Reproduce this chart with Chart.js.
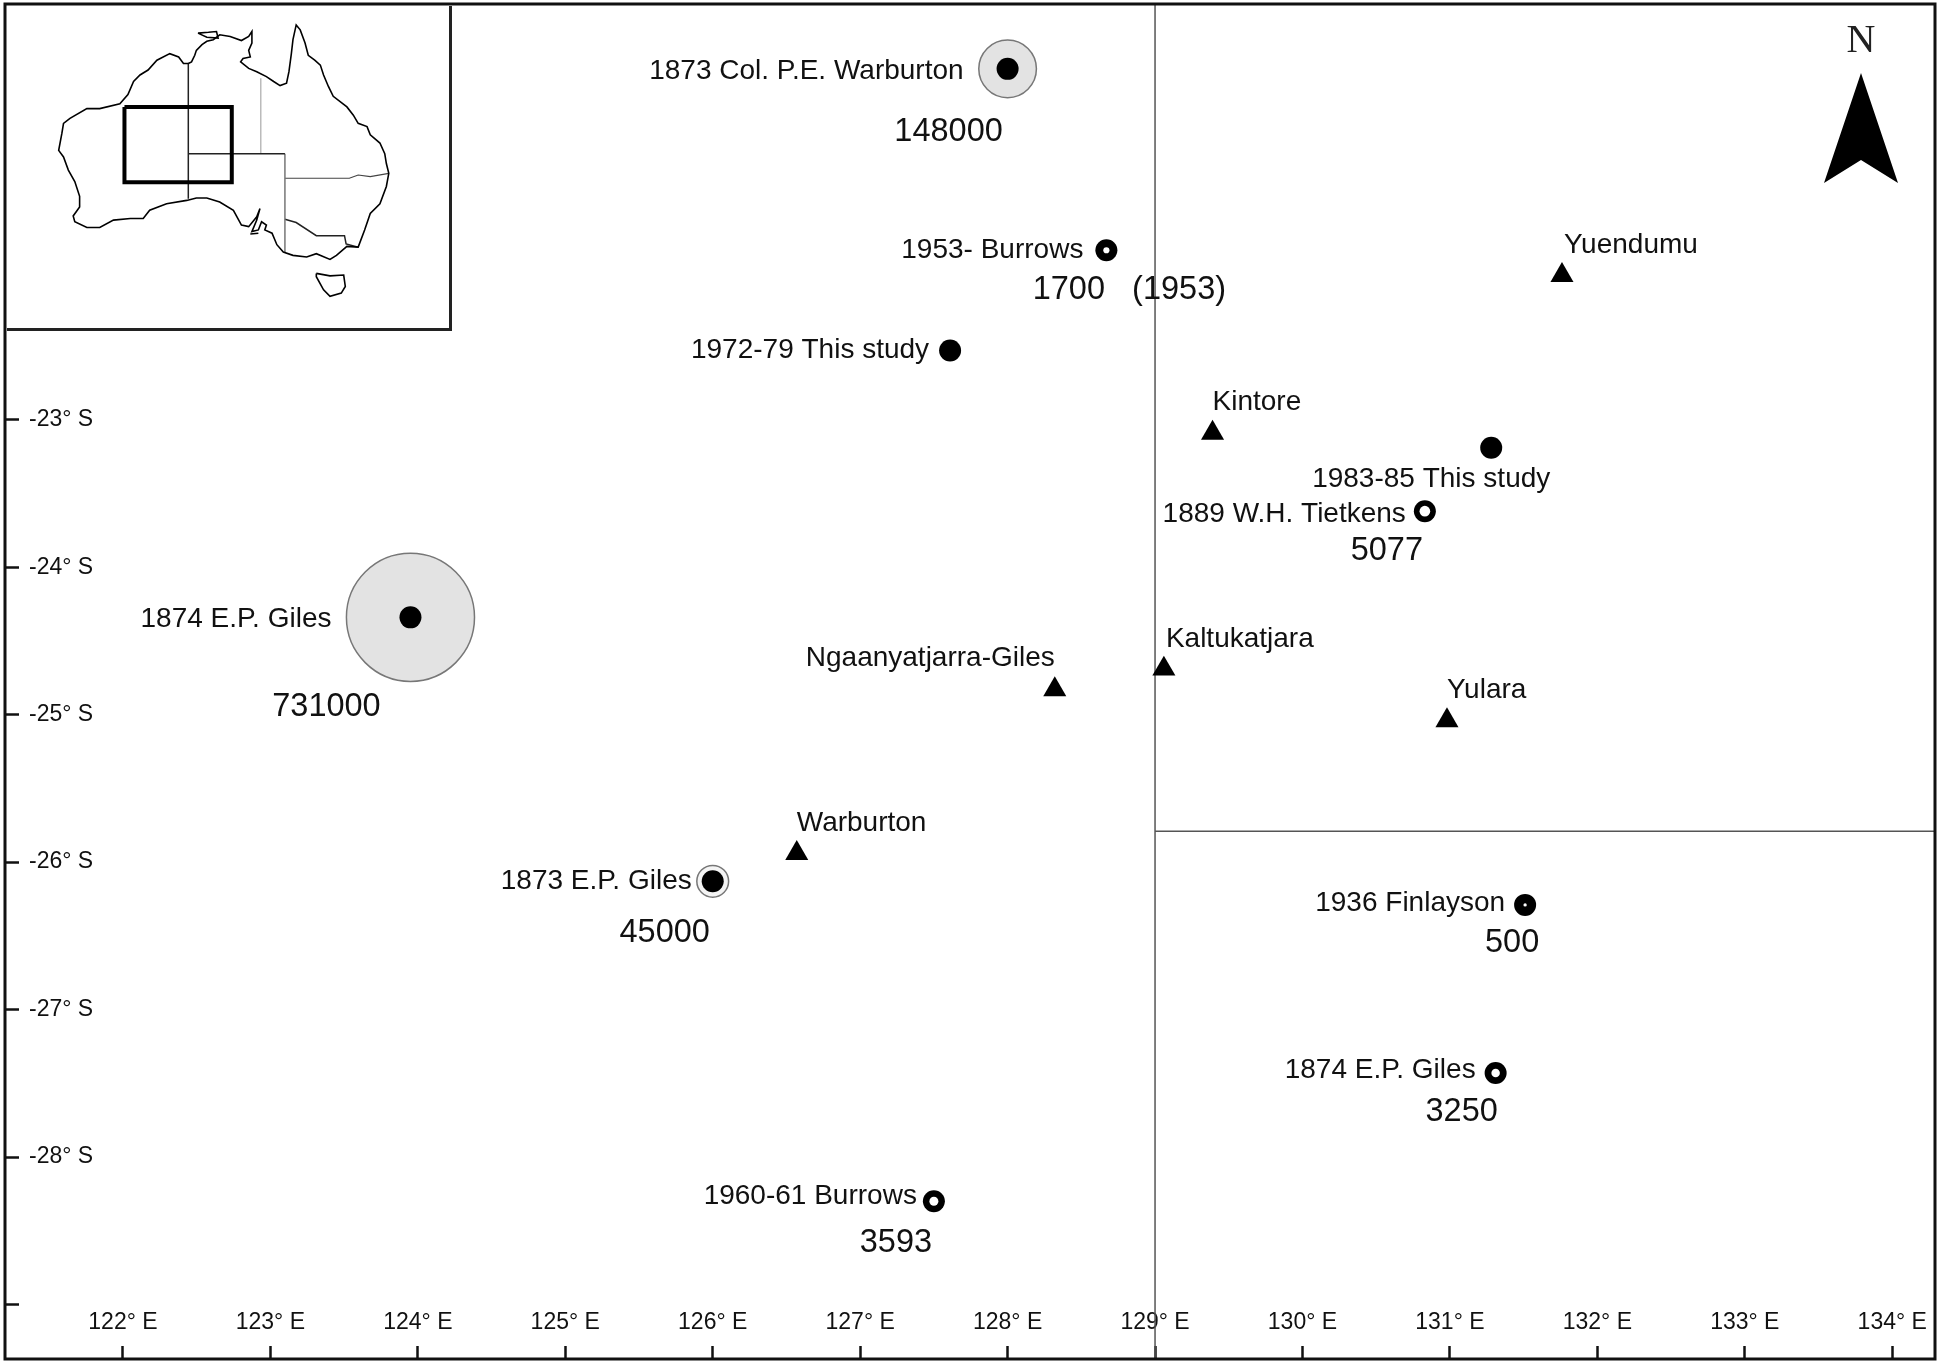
<!DOCTYPE html>
<html>
<head>
<meta charset="utf-8">
<title>Burn areas map</title>
<script src="https://cdn.jsdelivr.net/npm/chart.js@4"></script>
<style>
  body { margin: 0; background: #fff; }
  #wrap { position: relative; width: 1941px; height: 1364px; }
  #mainChart { position: absolute; left: 0; top: 0; }
  #insetBox { position: absolute; left: 7px; top: 6px; width: 442px; height: 322px; background: #fff; border-right: 3px solid #222; border-bottom: 3px solid #222; }
</style>
</head>
<body>
<div id="wrap">
  <canvas id="mainChart" width="1941" height="1364"></canvas>
  <div id="insetBox"><canvas id="insetChart" width="442" height="322"></canvas></div>
</div>
<script>
// axis ticks
const lonTicks = [122, 123, 124, 125, 126, 127, 128, 129, 130, 131, 132, 133, 134];
const latTicks = [-23, -24, -25, -26, -27, -28, -29];
const latLabelled = [-23, -24, -25, -26, -27, -28];

// survey sites
const siteNames = ['1873 Col. P.E. Warburton', '1953- Burrows', '1972-79 This study', '1983-85 This study', '1889 W.H. Tietkens', '1874 E.P. Giles', '1873 E.P. Giles', '1936 Finlayson', '1874 E.P. Giles', '1960-61 Burrows'];
const siteLon = [128.0, 128.67, 127.61, 131.28, 130.83, 123.95, 126.0, 131.51, 131.31, 127.5];
const siteLat = [-20.62, -21.85, -22.53, -23.19, -23.62, -24.34, -26.13, -26.29, -27.43, -28.3];
const siteAreas = [148000, 1700, null, null, 5077, 731000, 45000, 500, 3250, 3593];
const siteValueText = ['148000', '1700   (1953)', '', '', '5077', '731000', '45000', '500', '3250', '3593'];

// communities
const townNames = ['Yuendumu', 'Kintore', 'Kaltukatjara', 'Ngaanyatjarra-Giles', 'Yulara', 'Warburton'];
const townLon = [131.76, 129.39, 129.06, 128.32, 130.98, 126.57];
const townLat = [-22.02, -23.09, -24.69, -24.83, -25.04, -25.94];

// state borders on the main map
const borderNSLon = [129.0, 129.0];
const borderNSLat = [-20.18, -29.37];
const borderEWLon = [129.0, 134.29];
const borderEWLat = [-25.79, -25.79];

// inset: Australia outline
const coastLon = [129.0, 129.4, 129.8, 130.0, 130.7, 131.3, 132.1, 132.9, 134.2, 135.6, 136.5, 136.9, 136.9, 136.5, 136.7, 135.8, 135.5, 136.5, 137.5, 138.7, 139.6, 140.4, 141.2, 141.5, 141.8, 142.0, 142.4, 142.9, 143.5, 143.9, 144.7, 145.4, 145.8, 146.4, 147.0, 148.7, 149.5, 150.1, 151.2, 151.6, 152.8, 153.4, 153.6, 153.9, 153.6, 152.8, 151.6, 150.9, 150.1, 148.7, 147.4, 146.6, 144.9, 143.7, 142.0, 140.8, 140.0, 139.4, 138.5, 138.7, 138.1, 137.7, 136.9, 137.5, 137.9, 137.5, 136.5, 135.6, 134.6, 132.9, 131.3, 130.0, 128.8, 126.3, 124.2, 123.4, 121.8, 119.7, 118.0, 116.4, 114.9, 114.7, 115.5, 115.5, 114.9, 114.1, 113.5, 112.9, 113.3, 113.5, 114.3, 116.4, 118.0, 120.5, 121.5, 122.2, 123.0, 124.0, 125.1, 126.7, 127.8, 128.4, 129.0];
const coastLat = [-15.0, -14.8, -14.0, -13.4, -12.7, -12.3, -12.1, -11.5, -11.7, -12.2, -11.7, -11.1, -12.5, -13.4, -14.2, -14.4, -14.8, -15.6, -16.0, -16.6, -17.2, -17.7, -17.4, -16.0, -13.8, -12.1, -10.3, -10.9, -12.5, -14.0, -14.6, -15.2, -16.4, -17.8, -19.0, -20.3, -21.3, -22.3, -22.7, -23.7, -24.7, -26.0, -27.2, -28.4, -30.0, -32.1, -33.3, -35.3, -37.4, -37.3, -38.4, -38.9, -38.2, -38.6, -38.4, -38.0, -37.1, -35.7, -35.3, -34.7, -34.3, -35.3, -35.5, -34.1, -32.7, -33.7, -34.9, -34.7, -32.9, -31.9, -31.4, -31.4, -31.7, -32.1, -32.9, -33.9, -33.9, -34.1, -35.0, -35.0, -34.3, -33.6, -32.5, -31.2, -29.4, -28.0, -26.4, -25.6, -23.5, -22.3, -21.7, -20.5, -20.5, -19.9, -18.8, -17.2, -16.4, -15.8, -14.6, -13.8, -14.2, -15.0, -15.0];
const tasmaniaLon = [144.9, 146.6, 148.3, 148.5, 148.0, 146.6, 145.8, 144.9, 144.9];
const tasmaniaLat = [-40.6, -40.9, -40.8, -42.2, -43.0, -43.4, -42.6, -41.0, -40.6];
const tiwiLon = [130.2, 131.5, 132.5, 132.7, 131.3, 130.2];
const tiwiLat = [-11.3, -11.2, -11.1, -11.9, -11.8, -11.3];
const kangarooLon = [136.7, 137.7];
const kangarooLat = [-35.8, -35.7];
// inset: state lines and study box
const waLineLon = [129, 129];
const waLineLat = [-15.0, -31.5];
const ntSouthLon = [129, 141];
const ntSouthLat = [-26, -26];
const ntEastLon = [138, 138];
const ntEastLat = [-16.8, -26];
const saEastLon = [141, 141];
const saEastLat = [-26, -38];
const qldSouthLon = [141, 149, 150.1, 151.6, 153.9];
const qldSouthLat = [-29, -29, -28.6, -28.8, -28.4];
const vicNorthLon = [141, 142.4, 144.9, 148.4, 148.6, 150.1];
const vicNorthLat = [-34, -34.4, -36, -36, -37, -37.4];
const studyBoxLon = [121.07, 134.4, 134.4, 121.07, 121.07];
const studyBoxLat = [-20.3, -20.3, -29.5, -29.5, -20.3];

function points(xs, ys) {
    return xs.map((x, i) => ({ x: x, y: ys[i] }));
}

// circle size follows the burnt area
function areaRadius(area) {
    return Math.sqrt(area) * 0.0749;
}

const bigIdx = siteAreas.map((a, i) => a >= 45000 ? i : -1).filter(i => i >= 0);
const smallIdx = siteAreas.map((a, i) => a !== null && a < 45000 ? i : -1).filter(i => i >= 0);

// label placement relative to each marker (pixels): [dx, dy]
const siteNameOffset = [[-44, 2], [-23, 0], [-21, 0], [-60, 31], [-19, 3], [-79, 2], [-21, -0.5], [-20, -2], [-20, -3], [-17, -4.5]];
const siteNameAlign = ['right', 'right', 'right', 'center', 'right', 'right', 'right', 'right', 'right', 'right'];
const siteValueOffset = [[-59, 63], [23, 40], [0, 0], [0, 0], [-38, 40], [-84, 89.5], [-48, 51.5], [-13, 38.5], [-34, 39.5], [-38, 41.5]];
const townNameOffset = [[2, -30], [0, -31], [2, -30], [0, -31], [0, -30], [0, -30]];
const townNameAlign = ['left', 'left', 'left', 'right', 'left', 'left'];

const mapLabels = {
    id: 'mapLabels',
    afterDatasetsDraw(chart) {
        const ctx = chart.ctx, sx = chart.scales.x, sy = chart.scales.y;
        ctx.save();
        ctx.fillStyle = '#111';
        ctx.textBaseline = 'middle';
        ctx.font = '28px "Liberation Sans", Arial, sans-serif';
        siteNames.forEach((name, i) => {
            ctx.textAlign = siteNameAlign[i];
            ctx.fillText(name, sx.getPixelForValue(siteLon[i]) + siteNameOffset[i][0], sy.getPixelForValue(siteLat[i]) + siteNameOffset[i][1]);
        });
        townNames.forEach((name, i) => {
            ctx.textAlign = townNameAlign[i];
            ctx.fillText(name, sx.getPixelForValue(townLon[i]) + townNameOffset[i][0], sy.getPixelForValue(townLat[i]) + townNameOffset[i][1]);
        });
        ctx.font = '32.5px "Liberation Sans", Arial, sans-serif';
        ctx.textAlign = 'center';
        siteValueText.forEach((txt, i) => {
            if (!txt) return;
            ctx.fillText(txt, sx.getPixelForValue(siteLon[i]) + siteValueOffset[i][0], sy.getPixelForValue(siteLat[i]) + siteValueOffset[i][1]);
        });
        ctx.restore();
    }
};

// map frame and north arrow
const mapFurniture = {
    id: 'mapFurniture',
    afterDraw(chart) {
        const ctx = chart.ctx, a = chart.chartArea;
        ctx.save();
        ctx.strokeStyle = '#111';
        ctx.lineWidth = 3;
        ctx.strokeRect(a.left, a.top, a.right - a.left, a.bottom - a.top);

        ctx.fillStyle = '#000';
        ctx.beginPath();
        ctx.moveTo(1861, 73);
        ctx.lineTo(1898, 183);
        ctx.lineTo(1861, 160);
        ctx.lineTo(1824, 183);
        ctx.closePath();
        ctx.fill();

        ctx.fillStyle = '#222';
        ctx.font = '40px "Liberation Serif", "Times New Roman", serif';
        ctx.textAlign = 'center';
        ctx.textBaseline = 'middle';
        ctx.fillText('N', 1861, 41);
        ctx.restore();
    }
};

function flatAxis(scale) {
    if (scale.isHorizontal()) scale.height = 0; else scale.width = 0;
    scale.paddingLeft = scale.paddingRight = scale.paddingTop = scale.paddingBottom = 0;
}

new Chart(document.getElementById('mainChart'), {
    type: 'scatter',
    data: {
        datasets: [
            {
                label: 'state border',
                data: points(borderNSLon, borderNSLat),
                showLine: true, borderColor: '#555', borderWidth: 1.5, pointRadius: 0, order: 5
            },
            {
                label: 'state border',
                data: points(borderEWLon, borderEWLat),
                showLine: true, borderColor: '#555', borderWidth: 1.5, pointRadius: 0, order: 5
            },
            {
                label: 'burnt area (large)',
                data: bigIdx.map(i => ({ x: siteLon[i], y: siteLat[i] })),
                pointRadius: bigIdx.map(i => areaRadius(siteAreas[i])),
                backgroundColor: bigIdx.map(i => siteAreas[i] < 100000 ? '#f4f4f4' : '#e3e3e3'),
                borderColor: '#777', borderWidth: 1.5, order: 4
            },
            {
                label: 'site',
                data: points(siteLon, siteLat),
                pointRadius: 11, backgroundColor: '#000', borderColor: '#000', borderWidth: 0, order: 3
            },
            {
                label: 'burnt area (small)',
                data: smallIdx.map(i => ({ x: siteLon[i], y: siteLat[i] })),
                pointRadius: smallIdx.map(i => areaRadius(siteAreas[i])),
                backgroundColor: '#fff', borderWidth: 0, order: 2
            },
            {
                label: 'community',
                data: points(townLon, townLat),
                pointStyle: 'triangle', pointRadius: 13.3, backgroundColor: '#000', borderColor: '#000', borderWidth: 0, order: 1
            }
        ]
    },
    options: {
        responsive: false,
        maintainAspectRatio: false,
        animation: false,
        devicePixelRatio: 1,
        layout: { autoPadding: false, padding: { left: 5, right: 6, top: 4, bottom: 5 } },
        plugins: { legend: { display: false }, tooltip: { enabled: false } },
        scales: {
            x: {
                type: 'linear', min: 121.2, max: 134.29, position: 'bottom',
                afterBuildTicks: s => { s.ticks = lonTicks.map(v => ({ value: v })); },
                afterFit: flatAxis,
                border: { display: false },
                grid: { drawOnChartArea: false, drawTicks: true, tickLength: -13, tickWidth: 2.5, tickColor: '#111' },
                ticks: {
                    autoSkip: false, maxRotation: 0, minRotation: 0, mirror: true, padding: 23, color: '#111',
                    font: { family: '"Liberation Sans", Arial, sans-serif', size: 23 },
                    callback: v => v + '° E'
                }
            },
            y: {
                type: 'linear', min: -29.37, max: -20.18, position: 'left',
                afterBuildTicks: s => { s.ticks = latTicks.map(v => ({ value: v })); },
                afterFit: flatAxis,
                border: { display: false },
                grid: { drawOnChartArea: false, drawTicks: true, tickLength: -14, tickWidth: 2.5, tickColor: '#111' },
                ticks: {
                    autoSkip: false, mirror: true, padding: 24, color: '#111',
                    font: { family: '"Liberation Sans", Arial, sans-serif', size: 23 },
                    callback: v => latLabelled.includes(v) ? v + '° S' : ''
                }
            }
        }
    },
    plugins: [mapLabels, mapFurniture]
});

function insetLine(xs, ys, color, width) {
    return { data: points(xs, ys), showLine: true, borderColor: color, borderWidth: width, pointRadius: 0, tension: 0 };
}

new Chart(document.getElementById('insetChart'), {
    type: 'scatter',
    data: {
        datasets: [
            insetLine(studyBoxLon, studyBoxLat, '#000', 4),
            insetLine(coastLon, coastLat, '#000', 1.6),
            insetLine(tasmaniaLon, tasmaniaLat, '#000', 1.6),
            insetLine(tiwiLon, tiwiLat, '#000', 1.6),
            insetLine(kangarooLon, kangarooLat, '#000', 1.6),
            insetLine(waLineLon, waLineLat, '#222', 1.5),
            insetLine(ntSouthLon, ntSouthLat, '#222', 1.5),
            insetLine(ntEastLon, ntEastLat, '#bbb', 1.5),
            insetLine(saEastLon, saEastLat, '#777', 1.5),
            insetLine(qldSouthLon, qldSouthLat, '#444', 1.2),
            insetLine(vicNorthLon, vicNorthLat, '#222', 1.5)
        ]
    },
    options: {
        responsive: false,
        maintainAspectRatio: false,
        animation: false,
        devicePixelRatio: 1,
        layout: { autoPadding: false, padding: 0 },
        plugins: { legend: { display: false }, tooltip: { enabled: false } },
        scales: {
            x: { type: 'linear', display: false, min: 106.48, max: 161.38 },
            y: { type: 'linear', display: false, min: -47.26, max: -7.99 }
        }
    }
});
</script>
</body>
</html>
